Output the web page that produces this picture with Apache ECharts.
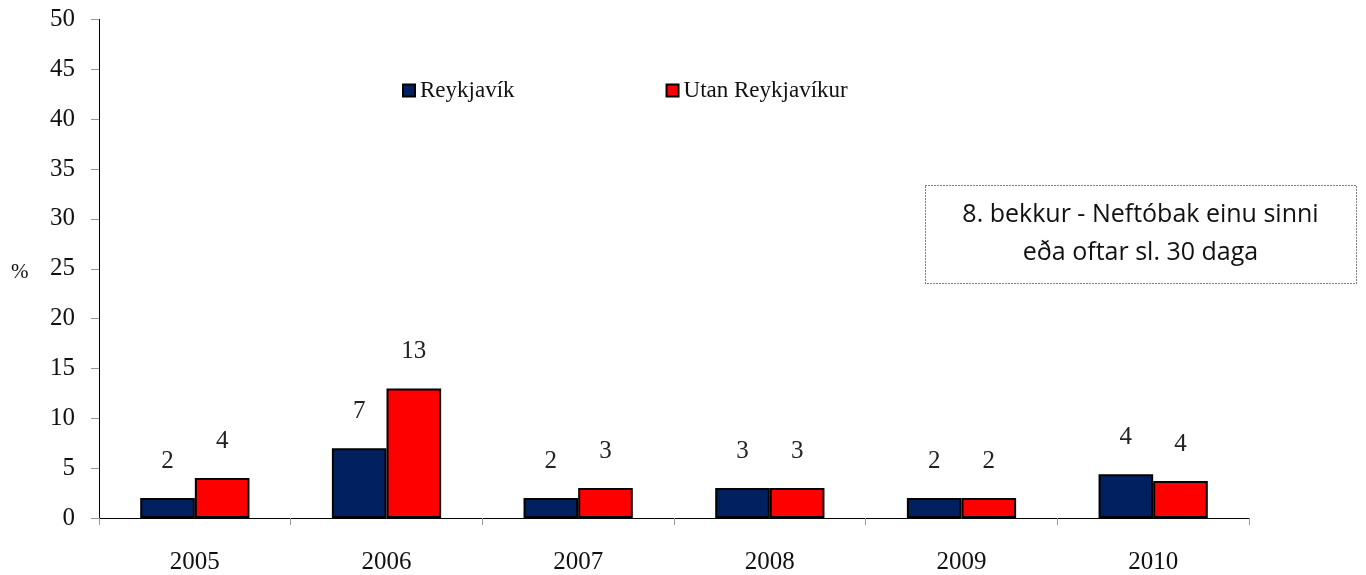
<!DOCTYPE html>
<html>
<head>
<meta charset="utf-8">
<script src="https://cdn.jsdelivr.net/npm/echarts@6/dist/echarts.min.js"></script>
<style>
  html, body { margin: 0; padding: 0; background: #fff; }
  #main { width: 1366px; height: 575px; }
</style>
</head>
<body>
<div id="main"></div>
<script>
// gögn lesin af myndinni
var years = ['2005', '2006', '2007', '2008', '2009', '2010'];
var reykjavik = [2, 7, 2, 3, 2, 4.4];
var utan = [4, 13, 3, 3, 2, 3.7];
var yTicks = { min: 0, max: 50, interval: 5 };

var serif = '"Liberation Serif", "DejaVu Serif", serif';

var chart = echarts.init(document.getElementById('main'));

function barSeries(name, data, color) {
  return {
    name: name,
    type: 'bar',
    data: data,
    barGap: '0%',
    barCategoryGap: '43%',
    itemStyle: { color: color, borderColor: '#000', borderWidth: 2 },
    label: {
      show: true,
      position: 'top',
      distance: 24,
      color: '#222',
      fontFamily: serif,
      fontSize: 25,
      formatter: function (p) { return Math.round(p.value); }
    }
  };
}

var option = {
  backgroundColor: '#fff',
  animation: false,
  grid: { left: 99, right: 117, top: 19.5, bottom: 57 },
  legend: {
    left: 397,
    top: 74,
    itemWidth: 12,
    itemHeight: 12,
    itemGap: 151,
    icon: 'rect',
    itemStyle: { borderColor: '#000', borderWidth: 2 },
    textStyle: { fontFamily: serif, fontSize: 23, color: '#111' },
    data: ['Reykjavík', 'Utan Reykjavíkur']
  },
  xAxis: {
    type: 'category',
    data: years,
    axisLine: { lineStyle: { color: '#000', width: 1 } },
    axisTick: { show: true, length: 7, lineStyle: { color: '#999' } },
    axisLabel: { fontFamily: serif, fontSize: 25, color: '#111', margin: 32 }
  },
  yAxis: {
    type: 'value',
    min: yTicks.min,
    max: yTicks.max,
    interval: yTicks.interval,
    splitLine: { show: false },
    axisLine: { show: true, lineStyle: { color: '#000', width: 1 } },
    axisTick: { show: true, length: 8, lineStyle: { color: '#999' } },
    axisLabel: { fontFamily: serif, fontSize: 25, color: '#111', margin: 24 }
  },
  graphic: [
    {
      type: 'text',
      left: 11,
      top: 262,
      style: { text: '%', font: '21px ' + serif, fill: '#111' }
    },
    {
      type: 'group',
      left: 925,
      top: 185,
      children: [
        {
          type: 'rect',
          shape: { x: 0.5, y: 0.5, width: 431, height: 98 },
          style: { fill: '#fff', stroke: '#000', lineWidth: 1, lineDash: [1, 2] }
        },
        {
          type: 'text',
          style: {
            x: 215.5,
            y: 49,
            text: '8. bekkur - Neftóbak einu sinni\neða oftar sl. 30 daga',
            font: '25px "Open Sans", "Noto Sans", sans-serif',
            fill: '#111',
            align: 'center',
            verticalAlign: 'middle',
            lineHeight: 38
          }
        }
      ]
    }
  ],
  series: [
    barSeries('Reykjavík', reykjavik, '#002060'),
    barSeries('Utan Reykjavíkur', utan, '#ff0000')
  ]
};

chart.setOption(option);
</script>
</body>
</html>
